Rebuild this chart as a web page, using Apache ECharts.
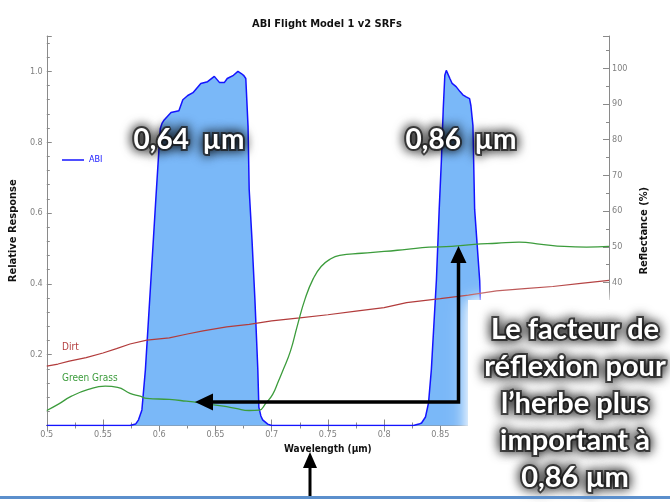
<!DOCTYPE html>
<html>
<head>
<meta charset="utf-8">
<script src="https://cdn.jsdelivr.net/npm/echarts@6/dist/echarts.min.js"></script>
<style>html,body{margin:0;padding:0;background:#fff;}#c{width:670px;height:502px;}</style>
</head>
<body>
<div id="c"></div>
<script>
// ABI spectral response (relative response vs wavelength, µm)
const abiX = [0.500,0.560,0.574,0.5790,0.5816,0.5846,0.5877,0.5926,0.597,0.6009,0.6026,0.6044,0.6105,0.6175,0.621,0.6254,0.630,0.637,0.643,0.6447,0.649,0.6535,0.658,0.6605,0.666,0.670,0.673,0.675,0.677,0.679,0.680,0.6825,0.6851,0.6877,0.6886,0.6904,0.692,0.6965,0.700,
  0.826,0.8310,0.8333,0.8368,0.8395,0.842,0.8465,0.849,0.851,0.8526,0.854,0.8553,0.857,0.8585,0.8605,0.864,0.8675,0.870,0.8716,0.873,0.876,0.8772,0.879,0.8805,0.885,0.887,0.8886,0.892,0.896,1.000];
const abiY = [0,0,0,0.004,0.016,0.044,0.157,0.41,0.64,0.838,0.854,0.863,0.884,0.889,0.92,0.932,0.94,0.966,0.971,0.969,0.986,0.969,0.969,0.980,0.989,1.0,0.994,0.989,0.98,0.844,0.667,0.525,0.356,0.157,0.052,0.027,0.016,0.004,0,
  0,0.004,0.007,0.024,0.064,0.157,0.41,0.611,0.753,0.895,0.989,1.003,1.0,0.98,0.966,0.957,0.943,0.934,0.937,0.928,0.923,0.903,0.847,0.611,0.41,0.21,0.044,0.007,0,0];
// Green grass reflectance (%)
const grassX = [0.500,0.510,0.522,0.537,0.552,0.563,0.574,0.583,0.589,0.609,0.624,0.639,0.657,0.668,0.680,0.689,0.6947,0.7009,0.706,0.7097,0.7167,0.7228,0.7298,0.737,0.744,0.7518,0.7605,0.78,0.80,0.82,0.84,0.86,0.88,0.90,0.92,0.94,0.96,0.98,1.00];
const grassY = [4.2,5.9,8.2,10.1,11.0,10.7,9.0,8.2,7.6,7.3,6.8,6.2,5.4,4.8,4.2,4.3,6.2,8.7,12.4,15.2,20.8,27.9,35.5,41.1,44.5,46.5,47.6,48.2,48.7,49.3,49.9,50.1,50.7,51.0,51.3,50.7,50.1,49.9,50.1];
// Dirt reflectance (%)
const dirtX = [0.500,0.510,0.520,0.535,0.550,0.562,0.574,0.589,0.609,0.625,0.639,0.660,0.680,0.700,0.725,0.750,0.775,0.800,0.820,0.850,0.875,0.900,0.925,0.950,0.975,1.000];
const dirtY = [16.6,17.2,18.0,19.0,20.3,21.5,22.8,23.9,24.5,25.6,26.5,27.6,28.3,29.3,30.1,31.0,32.0,33.0,34.4,35.5,36.5,37.7,38.3,38.9,39.8,40.6];

const pairs = (xs, ys) => xs.map((x, i) => [x, ys[i]]);
const narrow = '"Liberation Sans Narrow","DejaVu Sans Condensed","Arial Narrow",sans-serif';
const axisGray = '#8a8a8a';
const labelStyle = {color: '#808080', fontSize: 9, fontFamily: narrow};

const chart = echarts.init(document.getElementById('c'));
const bold = 'bold 28px Lato, "Open Sans", sans-serif';
const shadowText = {fill: '#ffffff', textShadowColor: 'rgba(0,0,0,1)', textShadowBlur: 12, stroke: 'rgba(35,35,35,0.75)', lineWidth: 4};

chart.setOption({
  animation: false,
  title: {
    text: 'ABI Flight Model 1 v2 SRFs', left: 322, top: 14, textAlign: 'center',
    textStyle: {fontSize: 11, fontWeight: 'bold', color: '#111', fontFamily: narrow}
  },
  grid: {left: 38, right: 61, top: 36, bottom: 76.5},
  xAxis: [{
    type: 'value', min: 0.5, max: 1.0, interval: 0.05,
    name: 'Wavelength (\u00b5m)', nameLocation: 'middle', nameGap: 19,
    nameTextStyle: {fontSize: 10, fontWeight: 'bold', color: '#111', fontFamily: narrow},
    axisLine: {show: true, onZero: false, lineStyle: {color: axisGray}},
    axisTick: {show: true, inside: true, length: 6, lineStyle: {color: axisGray}},
    minorTick: {show: true, splitNumber: 2, length: 3, lineStyle: {color: axisGray}},
    splitLine: {show: false},
    axisLabel: Object.assign({margin: 5, formatter: v => String(+v.toFixed(3))}, labelStyle)
  }, {
    type: 'value', position: 'top', min: 0.5, max: 1.0, interval: 0.05,
    axisLine: {show: true, lineStyle: {color: axisGray}},
    axisTick: {show: true, inside: true, length: 6, lineStyle: {color: axisGray}},
    minorTick: {show: true, splitNumber: 2, length: 3, lineStyle: {color: axisGray}},
    splitLine: {show: false}, axisLabel: {show: false}
  }],
  yAxis: [{
    type: 'value', min: 0, max: 1.1, interval: 0.2,
    name: 'Relative Response', nameLocation: 'middle', nameGap: 20, nameRotate: 90,
    nameTextStyle: {fontSize: 11, fontWeight: 'bold', color: '#111', fontFamily: narrow},
    axisLine: {show: true, lineStyle: {color: axisGray}},
    axisTick: {show: true, inside: true, length: 5, lineStyle: {color: axisGray}},
    minorTick: {show: true, splitNumber: 5, length: 3, lineStyle: {color: axisGray}},
    splitLine: {show: false},
    axisLabel: Object.assign({margin: 4, showMinLabel: false, showMaxLabel: false, formatter: v => v.toFixed(1)}, labelStyle)
  }, {
    type: 'value', position: 'right', min: 0, max: 109, interval: 10,
    name: 'Reflectance (%)', nameLocation: 'middle', nameGap: 17, nameRotate: 90,
    nameTextStyle: {fontSize: 11, fontWeight: 'bold', color: '#111', fontFamily: narrow},
    axisLine: {show: true, lineStyle: {color: axisGray}},
    axisTick: {show: true, inside: true, length: 6, lineStyle: {color: axisGray}},
    minorTick: {show: true, splitNumber: 2, length: 3, lineStyle: {color: axisGray}},
    splitLine: {show: false},
    axisLabel: Object.assign({margin: 3, showMinLabel: false, showMaxLabel: false}, labelStyle)
  }],
  series: [{
    name: 'ABI', type: 'line', xAxisIndex: 0, yAxisIndex: 0, data: pairs(abiX, abiY),
    symbol: 'none', smooth: false,
    lineStyle: {color: '#1414ff', width: 1.5},
    areaStyle: {color: '#7ab8f8', opacity: 1}, z: 2
  }, {
    name: 'Dirt', type: 'line', xAxisIndex: 0, yAxisIndex: 1, data: pairs(dirtX, dirtY),
    symbol: 'none', lineStyle: {color: '#b23c3c', width: 1.2}, z: 3
  }, {
    name: 'Green Grass', type: 'line', xAxisIndex: 0, yAxisIndex: 1, data: pairs(grassX, grassY),
    symbol: 'none', smooth: true, lineStyle: {color: '#3c9c3c', width: 1.3}, z: 3
  }],
  graphic: [
    // legend
    {type: 'line', z: 50, shape: {x1: 62, y1: 160, x2: 84, y2: 160}, style: {stroke: '#1414ff', lineWidth: 1.5}},
    {type: 'text', z: 50, x: 89, y: 160, style: {text: 'ABI', fill: '#1414ff', font: '9px ' + narrow, textVerticalAlign: 'middle'}},
    {type: 'text', z: 50, x: 62, y: 347, style: {text: 'Dirt', fill: '#b23c3c', font: '10px ' + narrow, textVerticalAlign: 'middle'}},
    {type: 'text', z: 50, x: 62, y: 378, style: {text: 'Green Grass', fill: '#3c9c3c', font: '10px ' + narrow, textVerticalAlign: 'middle'}},
    // band labels
    {type: 'text', z: 60, x: 189, y: 140, style: Object.assign({text: '0,64  \u00b5m', font: bold, textAlign: 'center', textVerticalAlign: 'middle'}, shadowText)},
    {type: 'text', z: 60, x: 461, y: 140, style: Object.assign({text: '0,86  \u00b5m', font: bold, textAlign: 'center', textVerticalAlign: 'middle'}, shadowText)},
    // white annotation background with soft edges
    {type: 'rect', z: 70, shape: {x: 472, y: 304, width: 220, height: 220}, style: {fill: '#ffffff', shadowBlur: 24, shadowColor: '#ffffff'}},
    {type: 'rect', z: 70, shape: {x: 468, y: 300, width: 220, height: 220}, style: {fill: '#ffffff', shadowBlur: 12, shadowColor: '#ffffff'}},
    // arrow from 0.86 to 0.64
    {type: 'polyline', z: 80, shape: {points: [[458.5, 260], [458.5, 402], [210, 402]]}, style: {stroke: '#000', lineWidth: 3.5, fill: null}},
    {type: 'polygon', z: 80, shape: {points: [[458.5, 246], [450.5, 263], [466.5, 263]]}, style: {fill: '#000'}},
    {type: 'polygon', z: 80, shape: {points: [[195, 402], [213, 393.5], [213, 410.5]]}, style: {fill: '#000'}},
    // annotation text
    {type: 'text', z: 90, x: 575, y: 311, style: Object.assign({text: 'Le facteur de\nr\u00e9flexion pour\nl\u2019herbe plus\nimportant \u00e0\n0,86 \u00b5m', font: 'bold 29px Lato, "Open Sans", sans-serif', textAlign: 'center', lineHeight: 37}, shadowText)},
    // bottom blue line and arrow
    {type: 'line', z: 95, shape: {x1: 0, y1: 497.5, x2: 670, y2: 497.5}, style: {stroke: '#5b8fcc', lineWidth: 3}},
    {type: 'line', z: 95, shape: {x1: 310, y1: 466, x2: 310, y2: 496}, style: {stroke: '#000', lineWidth: 3}},
    {type: 'polygon', z: 95, shape: {points: [[310, 452], [303, 468], [317, 468]]}, style: {fill: '#000'}}
  ]
});
</script>
</body>
</html>
